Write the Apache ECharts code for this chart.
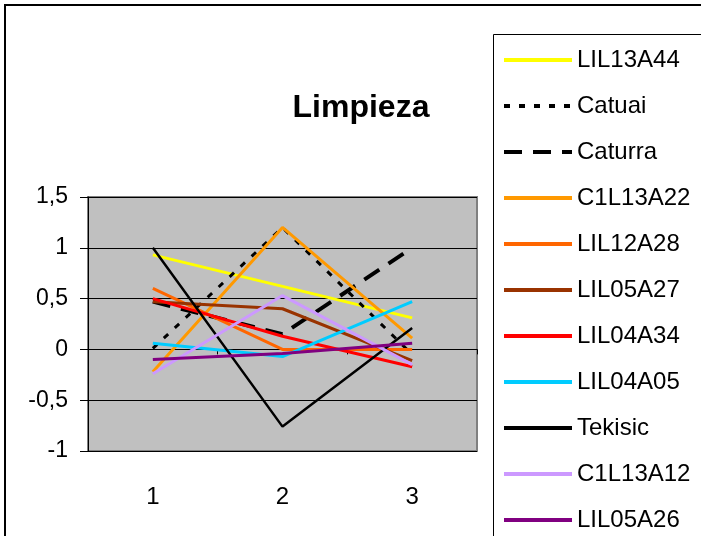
<!DOCTYPE html>
<html>
<head>
<meta charset="utf-8">
<script src="https://cdn.jsdelivr.net/npm/echarts@6/dist/echarts.min.js"></script>
<style>
html,body{margin:0;padding:0;background:#fff;}
#chart{width:701px;height:536px;}
</style>
</head>
<body>
<div id="chart"></div>
<script>
const categories = ['1', '2', '3'];
const yTicks = [-1, -0.5, 0, 0.5, 1, 1.5];

const LIL13A44 = [0.93, 0.62, 0.31];
const Catuai   = [0.01, 1.2, -0.05];
const Caturra  = [0.47, 0.15, 1.0];
const C1L13A22 = [-0.22, 1.2, 0.11];
const LIL12A28 = [0.6, 0.0, 0.0];
const LIL05A27 = [0.47, 0.4, -0.11];
const LIL04A34 = [0.5, 0.13, -0.17];
const LIL04A05 = [0.06, -0.07, 0.47];
const Tekisic  = [1.0, -0.76, 0.21];
const C1L13A12 = [-0.24, 0.53, -0.15];
const LIL05A26 = [-0.1, -0.04, 0.06];

const seriesDefs = [
  {name: 'LIL13A44', data: LIL13A44, color: '#FFFF00', width: 3, type: 'solid'},
  {name: 'Catuai',   data: Catuai,   color: '#000000', width: 3, type: [6, 9]},
  {name: 'Caturra',  data: Caturra,  color: '#000000', width: 4, type: [18, 11]},
  {name: 'C1L13A22', data: C1L13A22, color: '#FF9900', width: 3, type: 'solid'},
  {name: 'LIL12A28', data: LIL12A28, color: '#FF6600', width: 3, type: 'solid'},
  {name: 'LIL05A27', data: LIL05A27, color: '#993300', width: 3, type: 'solid'},
  {name: 'LIL04A34', data: LIL04A34, color: '#FF0000', width: 3, type: 'solid'},
  {name: 'LIL04A05', data: LIL04A05, color: '#00CCFF', width: 3, type: 'solid'},
  {name: 'Tekisic',  data: Tekisic,  color: '#000000', width: 2.5, type: 'solid'},
  {name: 'C1L13A12', data: C1L13A12, color: '#CC99FF', width: 3, type: 'solid'},
  {name: 'LIL05A26', data: LIL05A26, color: '#800080', width: 3, type: 'solid'}
];

const chart = echarts.init(document.getElementById('chart'), null, {renderer: 'canvas'});
const font = 'Liberation Sans, Arial, sans-serif';

chart.setOption({
  animation: false,
  backgroundColor: '#ffffff',
  title: {
    text: 'Limpieza',
    left: 356,
    top: 87,
    textAlign: 'center',
    textStyle: {fontFamily: font, fontWeight: 'bold', fontSize: 32, color: '#000'}
  },
  graphic: [
    {type: 'rect', shape: {x: 5, y: 5, width: 760, height: 600},
     style: {fill: 'none', stroke: '#000', lineWidth: 2}, z: 100},
    {type: 'rect', shape: {x: 493.5, y: 34.5, width: 300, height: 600},
     style: {fill: 'none', stroke: '#000', lineWidth: 1}, z: 100}
  ],
  legend: {
    orient: 'vertical',
    left: 502,
    top: 48,
    padding: 0,
    itemWidth: 68,
    itemHeight: 14,
    itemGap: 22,
    itemStyle: {opacity: 0},
    lineStyle: {width: 4},
    textStyle: {fontFamily: font, fontSize: 24, color: '#000', lineHeight: 24},
    data: seriesDefs.map(s => s.name)
  },
  grid: {
    left: 88, top: 197, width: 389, height: 254,
    outerBoundsMode: 'none',
    containLabel: false,
    show: true, backgroundColor: '#C0C0C0', borderColor: '#808080', borderWidth: 2
  },
  xAxis: [
    {
      type: 'category',
      data: categories,
      boundaryGap: true,
      position: 'bottom',
      axisLine: {show: false, onZero: false},
      axisTick: {show: false},
      axisLabel: {margin: 34, fontFamily: font, fontSize: 24, color: '#000'},
      splitLine: {show: false}
    },
    {
      type: 'category',
      data: categories,
      boundaryGap: true,
      position: 'top',
      axisLine: {onZero: true, lineStyle: {color: '#000', width: 1}},
      axisTick: {show: true, inside: true, length: 5, lineStyle: {color: '#000'}},
      axisLabel: {show: false},
      splitLine: {show: false}
    }
  ],
  yAxis: {
    type: 'value',
    min: yTicks[0],
    max: yTicks[yTicks.length - 1],
    interval: 0.5,
    axisLine: {show: true, lineStyle: {color: '#000', width: 1}},
    axisTick: {show: true, length: 8, lineStyle: {color: '#000'}},
    axisLabel: {margin: 20, fontFamily: font, fontSize: 23, color: '#000',
      formatter: v => String(v).replace('.', ',')},
    splitLine: {show: true, lineStyle: {color: '#000', width: 1}}
  },
  series: seriesDefs.map(s => ({
    name: s.name,
    type: 'line',
    xAxisIndex: 0,
    data: s.data,
    symbol: 'none',
    showSymbol: false,
    color: s.color,
    itemStyle: {color: s.color, opacity: 0},
    lineStyle: {color: s.color, width: s.width, type: s.type}
  }))
});
</script>
</body>
</html>
